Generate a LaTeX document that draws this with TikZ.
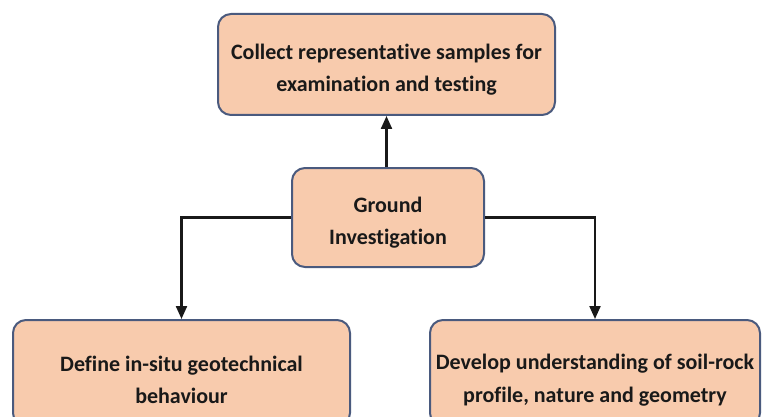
\documentclass[tikz,border=0pt]{standalone}
\usepackage{fontspec}
\setmainfont{Carlito}[Ligatures=NoCommon]
\usetikzlibrary{arrows.meta}
\definecolor{boxfill}{HTML}{F8CBAD}
\definecolor{boxline}{HTML}{4A5A7E}
\tikzset{
  stagebox/.style={draw=boxline, line width=2pt, fill=boxfill, rounded corners=13pt,
    inner sep=0pt},
  stagetext/.style={align=center, inner sep=0pt, text=black!90,
    font=\bfseries\fontsize{22}{32.5}\selectfont},
  flow/.style={line width=2.2pt, draw=black!90, -{Triangle[width=11pt,length=13pt]}}
}
\begin{document}
\begin{tikzpicture}[x=1pt,y=-1pt]
  \fill[white] (0,0) rectangle (763,417);
  \useasboundingbox (0,0) rectangle (763,417);
  % boxes
  \node[stagebox, minimum width=337pt, minimum height=101pt] (samples) at (386.5,64.5) {};
  \node[stagebox, minimum width=192pt, minimum height=99pt] (gi) at (388,217.5) {};
  \node[stagebox, minimum width=337pt, minimum height=106pt] (insitu) at (181.5,373) {};
  \node[stagebox, minimum width=330pt, minimum height=106pt] (profile) at (595,373) {};
  % box texts
  \node[stagetext] (samples-t) at ([yshift=-5pt]samples.center)
    {Collect representative samples for\\examination and testing};
  \node[stagetext] (gi-t) at ([yshift=-5pt]gi.center) {Ground\\Investigation};
  \node[stagetext] (insitu-t) at ([yshift=-7pt]insitu.center)
    {Define in-situ geotechnical\\behaviour};
  \node[stagetext] (profile-t) at ([yshift=-7pt]profile.center)
    {Develop understanding of soil-rock\\profile, nature and geometry};
  % connectors
  \draw[flow] (gi.north -| samples.south) -- (samples.south);
  \draw[flow] (gi.west) -| (insitu.north);
  \draw[flow] (gi.east) -| (profile.north);
\end{tikzpicture}
\end{document}
